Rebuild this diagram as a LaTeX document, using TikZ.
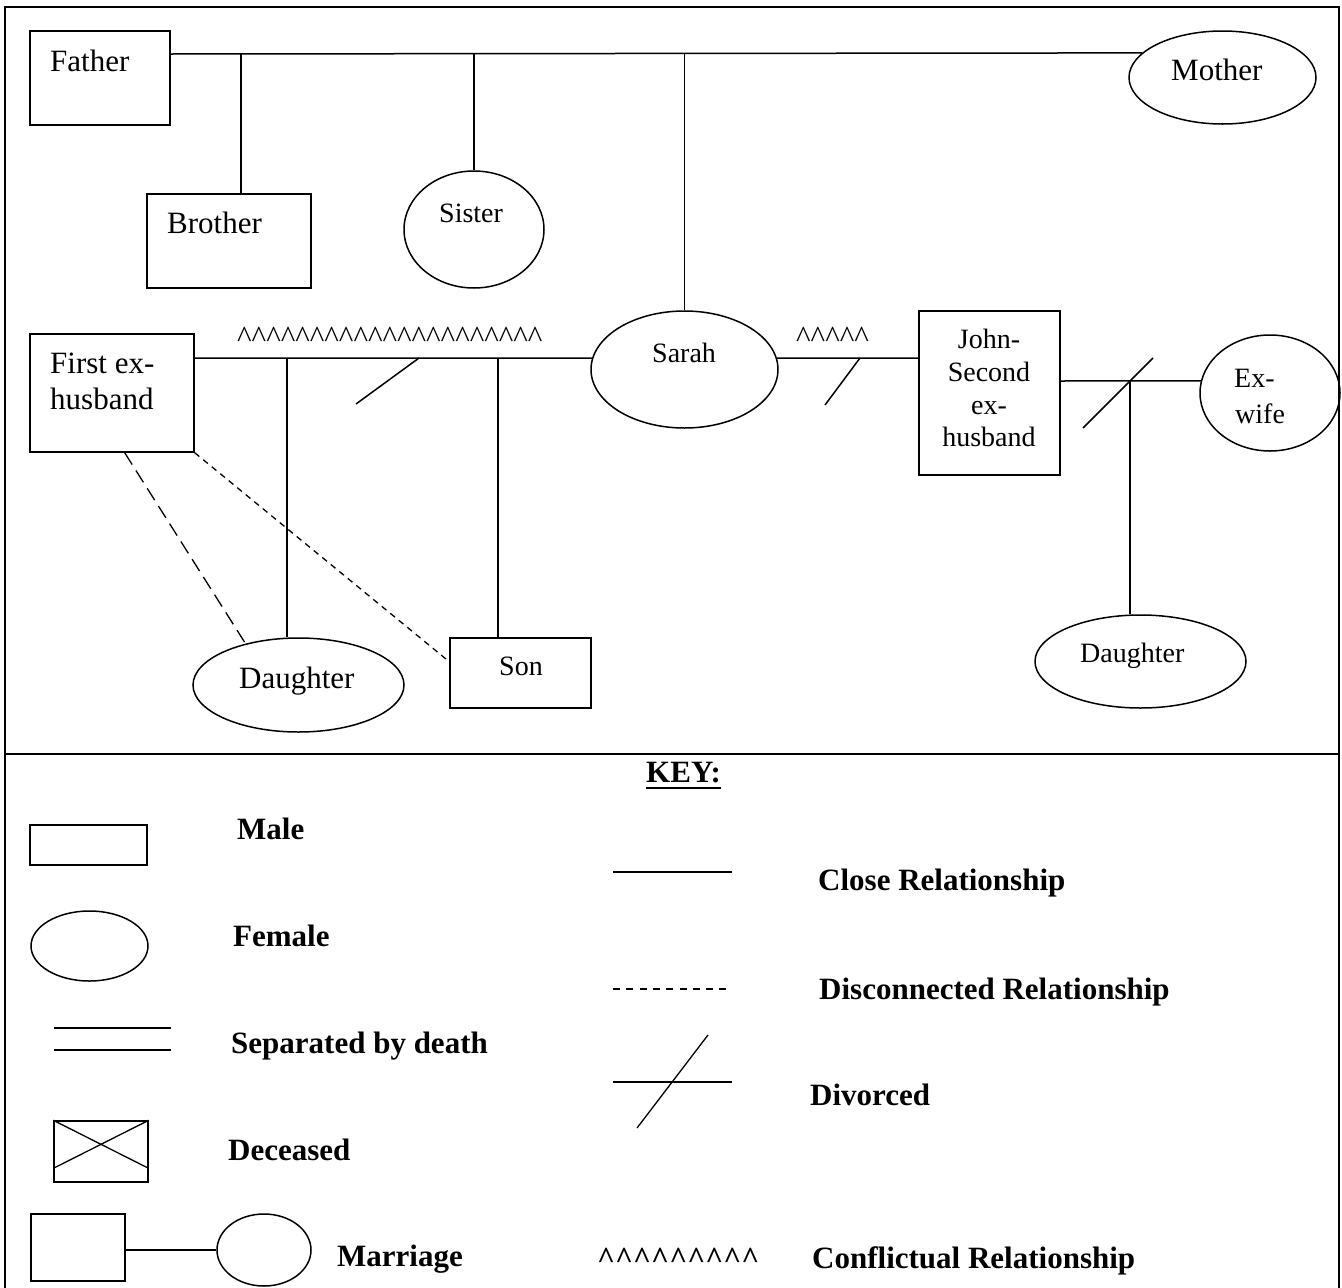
\documentclass[tikz,border=0pt]{standalone}
\usepackage{fontspec}
\setmainfont{Liberation Serif}
\usetikzlibrary{shapes.geometric}

\newcommand\hatrun[1]{\count255=0 \loop\textasciicircum\advance\count255 by 1 \ifnum\count255<#1\repeat}

\tikzset{
  malebox/.style={draw, rectangle, inner sep=0pt, line width=1.5pt},
  femaleshape/.style={draw, ellipse, inner sep=0pt, line width=1.5pt},
  tie/.style={line width=1.5pt},
  longdash/.style={line width=1.3pt, dash pattern=on 14pt off 7pt},
  shortdash/.style={line width=1.3pt, dash pattern=on 6pt off 5pt},
  keydash/.style={line width=1.3pt, dash pattern=on 7pt off 6.3pt},
  frameline/.style={line width=2.6pt},
  big/.style={inner sep=0pt, anchor=base west, font=\fontsize{31}{36}\selectfont},
  small/.style={inner sep=0pt, anchor=base west, font=\fontsize{28}{33}\selectfont},
  smallc/.style={inner sep=0pt, anchor=base, font=\fontsize{28}{33}\selectfont},
  keytxt/.style={inner sep=0pt, anchor=base west, font=\bfseries\fontsize{31}{36}\selectfont},
}

\begin{document}
\begin{tikzpicture}[x=1pt, y=-1pt]
\useasboundingbox (0,0) rectangle (1342,1288);

% outer frame and divider between genogram and key
\draw[frameline] (5,1290) -- (5,7) -- (1339,7) -- (1339,1290);
\draw[frameline] (5,754) -- (1339,754);

% ---------- family members ----------
\node[malebox, minimum width=140pt, minimum height=94pt] (Father) at (100,78) {};
\node[femaleshape, minimum width=187pt, minimum height=93pt] (Mother) at (1222.5,77.5) {};
\node[malebox, minimum width=164pt, minimum height=94pt] (Brother) at (229,241) {};
\node[femaleshape, minimum width=140pt, minimum height=117pt] (Sister) at (474,229.5) {};
\node[femaleshape, minimum width=187pt, minimum height=117pt] (Sarah) at (684.5,369.5) {};
\node[malebox, minimum width=164pt, minimum height=118pt] (First) at (112,393) {};
\node[malebox, minimum width=141pt, minimum height=164pt] (John) at (989.5,393) {};
\node[femaleshape, minimum width=140pt, minimum height=116pt] (Exwife) at (1270,393) {};
\node[femaleshape, minimum width=211pt, minimum height=94pt] (DaughterA) at (298.5,685) {};
\node[malebox, minimum width=141pt, minimum height=70pt] (Son) at (520.5,673) {};
\node[femaleshape, minimum width=211pt, minimum height=93pt] (DaughterB) at (1140.5,661.5) {};

% labels
\node[big] (tFather) at (50,71) {Father};
\node[big] (tMother) at (1171,80) {Mother};
\node[big] (tBrother) at (167,233) {Brother};
\node[small] (tSister) at (439,222) {Sister};
\node[small] (tSarah) at (652,362) {Sarah};
\node[big] (tFirstA) at (50,373) {First ex-};
\node[big] (tFirstB) at (50,409) {husband};
\node[smallc] (tJohnA) at (989,348) {John-};
\node[smallc] (tJohnB) at (989,381) {Second};
\node[smallc] (tJohnC) at (989,414) {ex-};
\node[smallc] (tJohnD) at (989,446) {husband};
\node[small] (tExA) at (1234,387) {Ex-};
\node[small] (tExB) at (1235,423) {wife};
\node[big] (tDaughterA) at (239,688) {Daughter};
\node[small] (tSon) at (499,675) {Son};
\node[small] (tDaughterB) at (1080,662) {Daughter};

% conflict marks
\node[big] (hatsA) at (237,347) {\hatrun{21}};
\node[big] (hatsB) at (796,347) {\hatrun{5}};

% ---------- parents' line and sibling drops ----------
\coordinate (topbar) at (0,54);
\draw[tie] (Father.east |- topbar) -- (Mother.163);
\coordinate (broDrop) at (241,54);
\draw[tie] (broDrop) -- (broDrop |- Brother.north);
\draw[tie] (Sister.north |- topbar) -- (Sister.north);
\draw[tie] (Sarah.north |- topbar) -- (Sarah.north);

% ---------- Sarah's first marriage ----------
\coordinate (firstLine) at (0,358);
\draw[tie] (First.east |- firstLine) -- (Sarah.173);
\draw[tie] (419,358) -- (356,404);
\coordinate (dauDrop) at (287,358);
\draw[tie] (dauDrop) -- (dauDrop |- DaughterA.north);
\coordinate (sonDrop) at (498,358);
\draw[tie] (sonDrop) -- (sonDrop |- Son.north);
\draw[longdash] (First.-78) -- (DaughterA.142);
\draw[shortdash] (First.south east) -- (Son.171);

% ---------- Sarah's second marriage ----------
\draw[tie] (Sarah.7) -- (John.west |- firstLine);
\draw[tie] (860,358) -- (825,405);

% ---------- John's earlier marriage ----------
\coordinate (johnLine) at (0,381);
\draw[tie] (John.east |- johnLine) -- (Exwife.170);
\draw[tie] (1153,358) -- (1083,428);
\coordinate (dauDropB) at (1130,381);
\draw[tie] (dauDropB) -- (dauDropB |- DaughterB.north);

% ---------- key ----------
\node[keytxt] (keyHead) at (646,782) {KEY:};
\draw[line width=2.6pt] ([yshift=-6pt]keyHead.base west) -- ([yshift=-6pt]keyHead.base east);

\node[malebox, minimum width=117pt, minimum height=40pt] (kMale) at (88.5,845) {};
\node[keytxt] (kMaleT) at (237,839) {Male};

\node[femaleshape, minimum width=117pt, minimum height=70pt] (kFemale) at (89.5,946) {};
\node[keytxt] (kFemaleT) at (233,946) {Female};

\coordinate (sepA1) at (54,1028); \coordinate (sepA2) at (171,1028);
\coordinate (sepB1) at (54,1050); \coordinate (sepB2) at (171,1050);
\draw[tie] (sepA1) -- (sepA2);
\draw[tie] (sepB1) -- (sepB2);
\node[keytxt] (kSepT) at (231,1053) {Separated by death};

\node[malebox, minimum width=94pt, minimum height=61pt] (kDec) at (101,1151.5) {};
\draw[line width=1.3pt] (kDec.north west) -- (148,1168);
\draw[line width=1.3pt] (54,1168) -- (kDec.north east);
\node[keytxt] (kDecT) at (228,1160) {Deceased};

\node[malebox, minimum width=94pt, minimum height=67pt] (kMarM) at (78,1247.5) {};
\node[femaleshape, minimum width=94pt, minimum height=72pt] (kMarF) at (264,1250) {};
\draw[tie] (kMarM.east |- kMarF.west) -- (kMarF.west);
\node[keytxt] (kMarT) at (337,1266) {Marriage};

\coordinate (cl1) at (613,872); \coordinate (cl2) at (732,872);
\draw[tie] (cl1) -- (cl2);
\node[keytxt] (kCloseT) at (818,890) {Close Relationship};

\coordinate (dc1) at (613,989); \coordinate (dc2) at (732,989);
\draw[keydash] (dc1) -- (dc2);
\node[keytxt] (kDiscT) at (819,999) {Disconnected Relationship};

\coordinate (dv1) at (613,1082); \coordinate (dv2) at (732,1082);
\draw[tie] (dv1) -- (dv2);
\draw[line width=1.3pt] (708,1035) -- (637,1128);
\node[keytxt] (kDivT) at (810,1105) {Divorced};

\node[keytxt] (kHats) at (597,1268) {\hatrun{9}};
\node[keytxt] (kConfT) at (812,1268) {Conflictual Relationship};
\end{tikzpicture}
\end{document}
